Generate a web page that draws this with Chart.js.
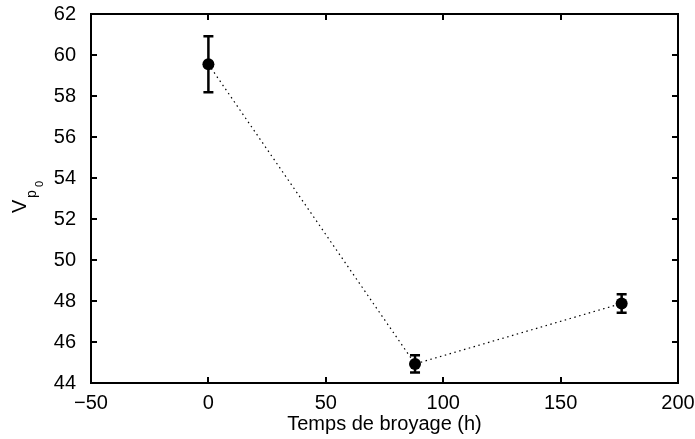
<!DOCTYPE html>
<html>
<head>
<meta charset="utf-8">
<script src="https://cdn.jsdelivr.net/npm/chart.js@4.4.0/dist/chart.umd.min.js"></script>
<style>
  body { margin: 0; background: #fff; }
  #wrap { width: 695px; height: 439px; }
</style>
</head>
<body>
<div id="wrap"><canvas id="chart" width="695" height="439"></canvas></div>
<script>
// data
const grindTime = [0, 88, 176];          // Temps de broyage (h)
const vp0 = [59.55, 44.93, 47.88];       // mean value
const vp0Err = [1.37, 0.42, 0.45];       // error bar half-height
const xTicks = [-50, 0, 50, 100, 150, 200];
const yTicks = [44, 46, 48, 50, 52, 54, 56, 58, 60, 62];

const FONT = "Liberation Sans, Arial, Helvetica, sans-serif";

// box + inward ticks like the matlab plot
const boxPlugin = {
  id: "box",
  afterDraw(chart) {
    const { ctx, chartArea: a, scales } = chart;
    ctx.save();
    ctx.strokeStyle = "#000";
    ctx.lineWidth = 2;
    ctx.strokeRect(a.left, a.top, a.right - a.left, a.bottom - a.top);
    ctx.beginPath();
    const len = 6;
    xTicks.forEach(v => {
      const x = Math.round(scales.x.getPixelForValue(v));
      ctx.moveTo(x, a.bottom); ctx.lineTo(x, a.bottom - len);
      ctx.moveTo(x, a.top); ctx.lineTo(x, a.top + len);
    });
    yTicks.forEach(v => {
      const y = Math.round(scales.y.getPixelForValue(v));
      ctx.moveTo(a.left, y); ctx.lineTo(a.left + len, y);
      ctx.moveTo(a.right, y); ctx.lineTo(a.right - len, y);
    });
    ctx.stroke();

    // y axis label V_{p_0}
    ctx.fillStyle = "#000";
    ctx.translate(26, 213);
    ctx.rotate(-Math.PI / 2);
    ctx.textBaseline = "alphabetic";
    ctx.textAlign = "left";
    ctx.font = "20px " + FONT;
    ctx.fillText("V", 0, 0);
    ctx.font = "14px " + FONT;
    ctx.fillText("p", 15, 10);
    ctx.font = "11px " + FONT;
    ctx.fillText("0", 26, 17);
    ctx.restore();
  }
};

// error bars drawn from the data arrays
const errPlugin = {
  id: "errbars",
  beforeDatasetsDraw(chart) {
    const { ctx, scales } = chart;
    ctx.save();
    ctx.strokeStyle = "#000";
    ctx.lineWidth = 2.5;
    grindTime.forEach((t, i) => {
      const x = scales.x.getPixelForValue(t);
      const yTop = scales.y.getPixelForValue(vp0[i] + vp0Err[i]);
      const yBot = scales.y.getPixelForValue(vp0[i] - vp0Err[i]);
      ctx.beginPath();
      ctx.moveTo(x, yTop); ctx.lineTo(x, yBot);
      ctx.moveTo(x - 5, yTop); ctx.lineTo(x + 5, yTop);
      ctx.moveTo(x - 5, yBot); ctx.lineTo(x + 5, yBot);
      ctx.stroke();
    });
    ctx.restore();
  }
};

new Chart(document.getElementById("chart").getContext("2d"), {
  type: "scatter",
  data: {
    datasets: [{
      data: grindTime.map((t, i) => ({ x: t, y: vp0[i] })),
      showLine: true,
      borderColor: "#000",
      borderWidth: 1.2,
      borderDash: [1.5, 3.5],
      pointRadius: 6,
      pointBackgroundColor: "#000",
      pointBorderColor: "#000",
      pointBorderWidth: 0
    }]
  },
  options: {
    responsive: false,
    animation: false,
    layout: { padding: { left: 0, top: 14, right: 17, bottom: 0 } },
    plugins: { legend: { display: false }, tooltip: { enabled: false } },
    scales: {
      x: {
        type: "linear",
        min: -50, max: 200,
        afterBuildTicks: s => { s.ticks = xTicks.map(v => ({ value: v })); },
        afterFit: s => {
          s.height = 56;
          s.paddingLeft = 0; s.paddingRight = 0;
        },
        grid: { display: false },
        border: { display: false },
        ticks: {
          color: "#000",
          padding: 0,
          font: { family: FONT, size: 20 },
          callback: v => (v < 0 ? "\u2212" + Math.abs(v) : String(v))
        },
        title: {
          display: true,
          text: "Temps de broyage (h)",
          color: "#000",
          font: { family: FONT, size: 20 },
          padding: { top: 0, bottom: 3 }
        }
      },
      y: {
        type: "linear",
        min: 44, max: 62,
        afterBuildTicks: s => { s.ticks = yTicks.map(v => ({ value: v })); },
        afterFit: s => {
          s.width = 91;
          s.paddingTop = 0; s.paddingBottom = 0;
        },
        grid: { display: false },
        border: { display: false },
        ticks: {
          color: "#000",
          padding: 7,
          font: { family: FONT, size: 20 }
        }
      }
    }
  },
  plugins: [boxPlugin, errPlugin]
});
</script>
</body>
</html>
